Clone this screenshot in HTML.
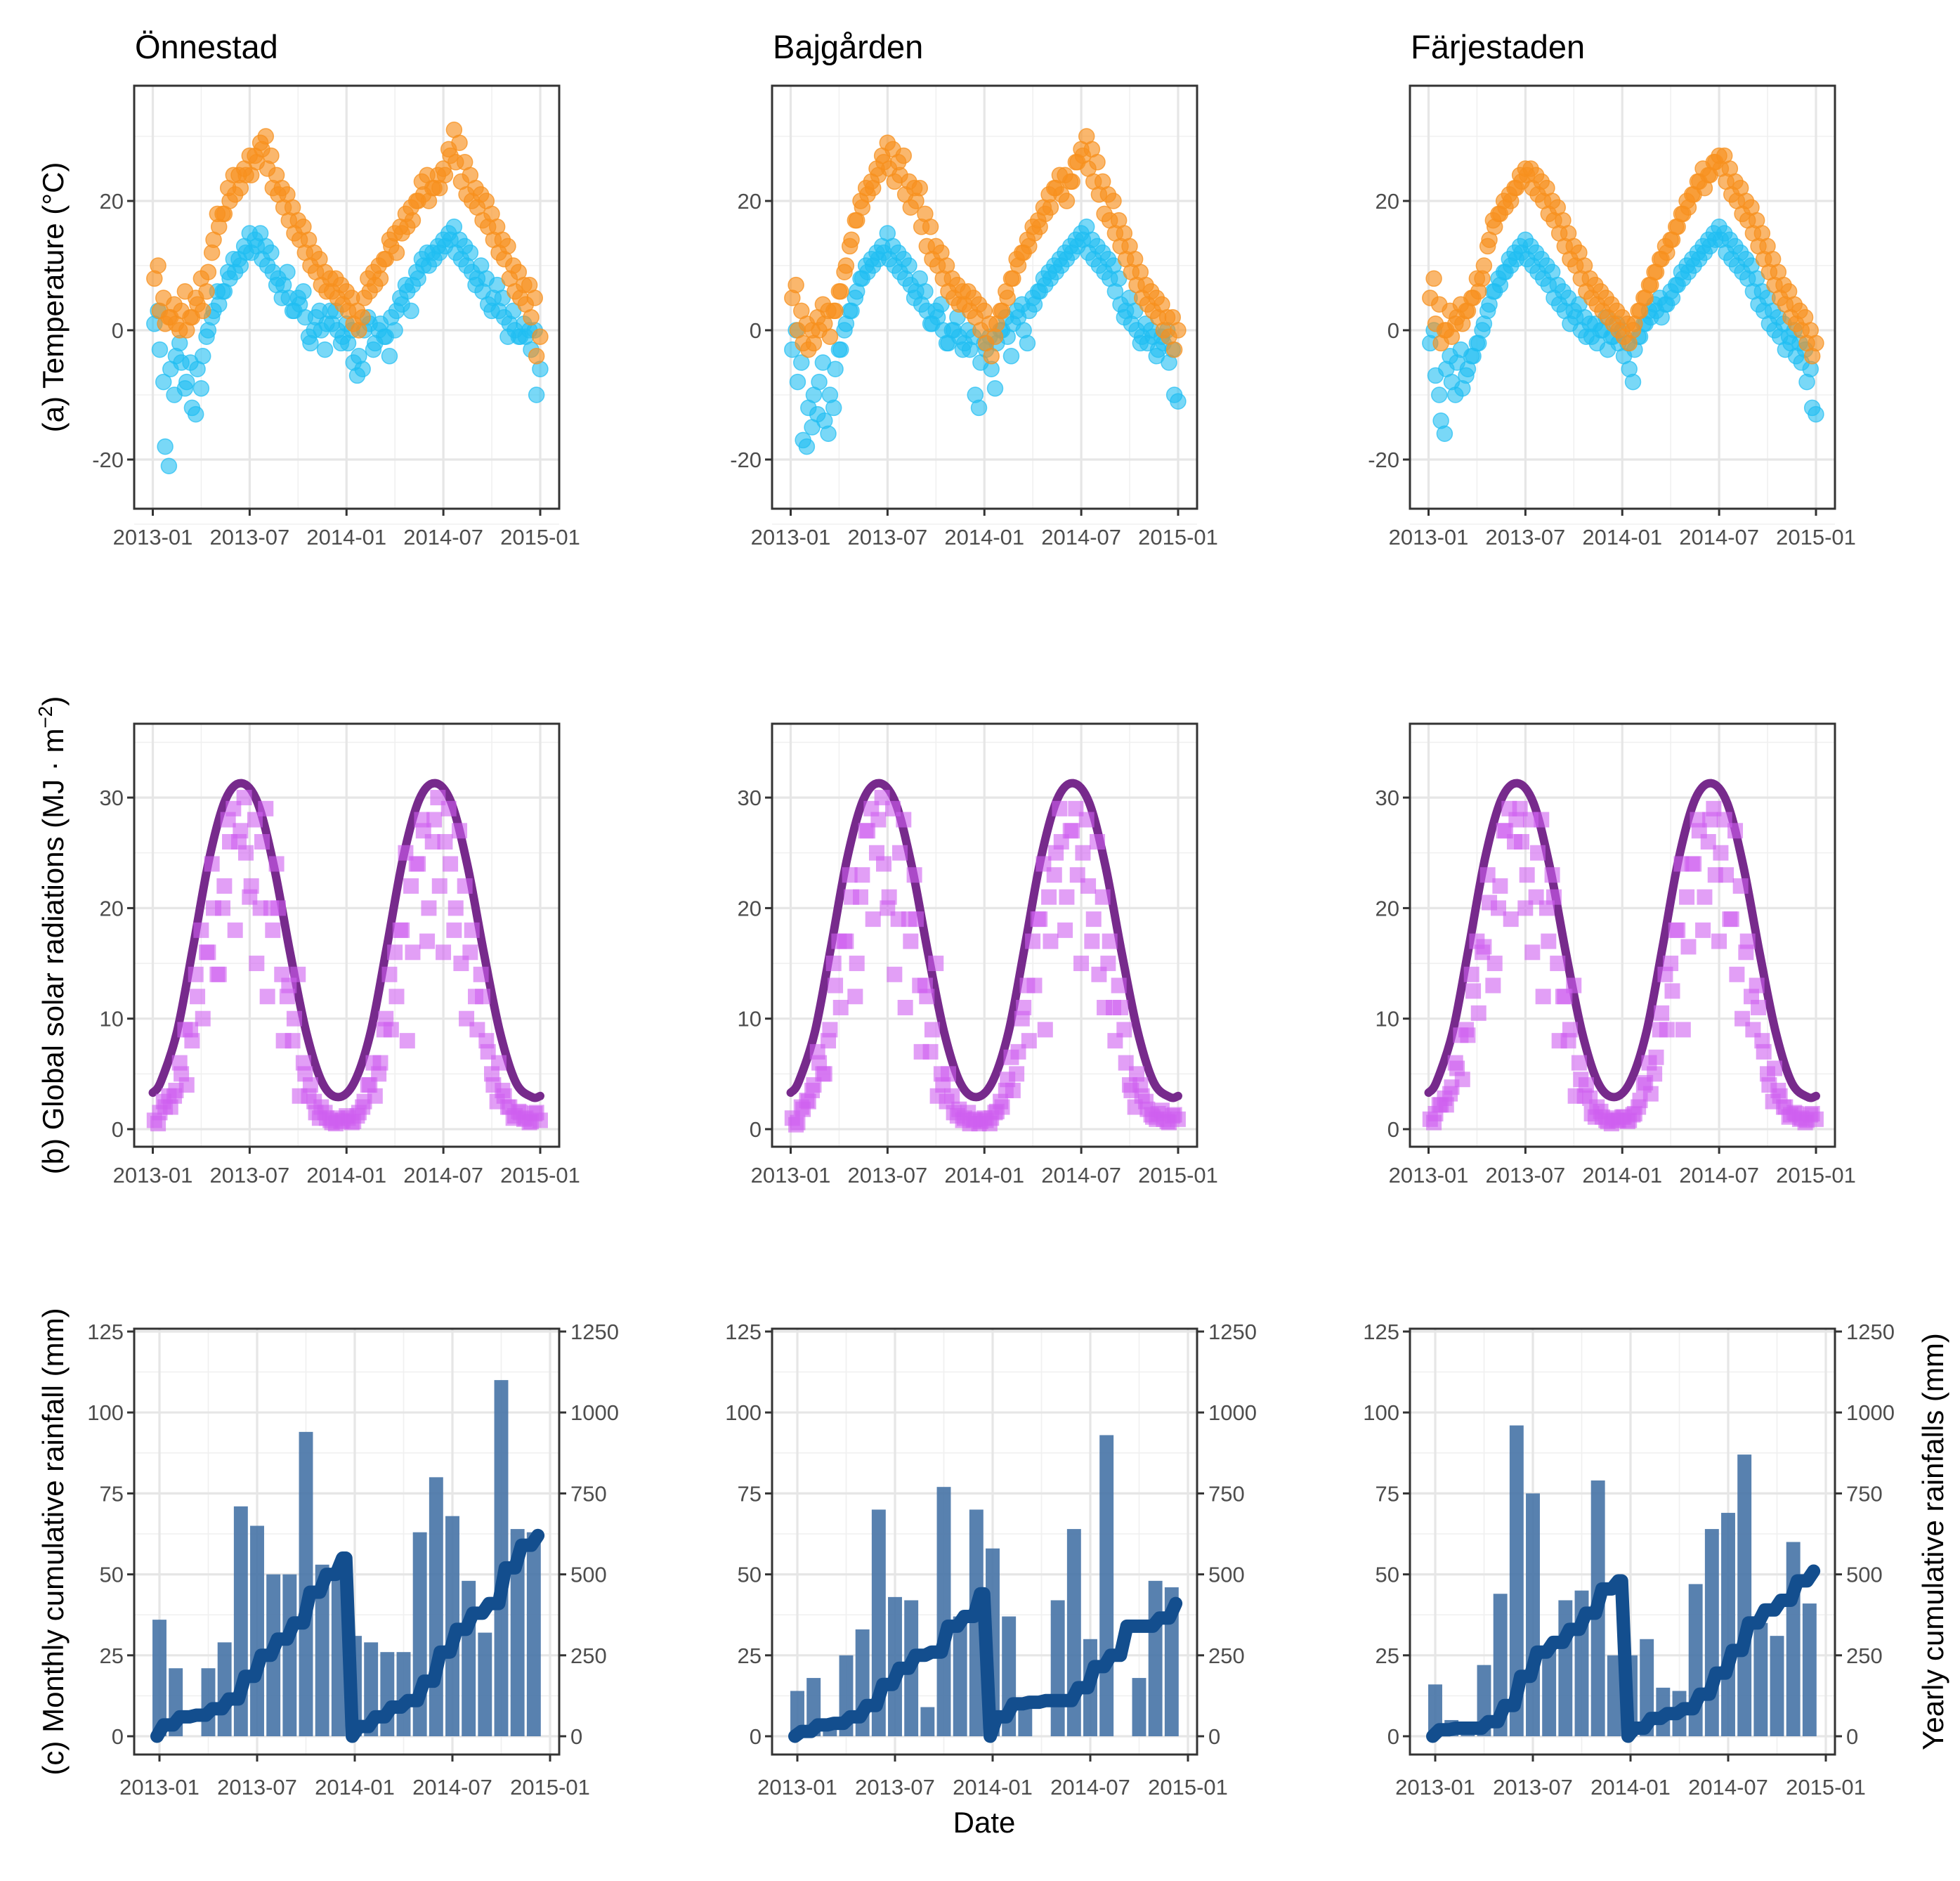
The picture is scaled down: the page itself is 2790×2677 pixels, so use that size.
<!DOCTYPE html>
<html><head><meta charset="utf-8"><style>
html,body{margin:0;padding:0;background:#fff;}
svg{display:block;font-family:"Liberation Sans",Arial,sans-serif;}
</style></head><body>
<svg id="fig" xmlns="http://www.w3.org/2000/svg" width="2790" height="2677" viewBox="0 0 2790 2677">
<rect width="2790" height="2677" fill="#fff"/>
<g id="root"></g>
</svg>
<script>
// ---------- DATA ----------
const sites = ["Önnestad","Bajgården","Färjestaden"];
// temperature, two readings sets, 3 samples per month, Jan 2013 .. Dec 2014 (°C)
const tmaxOnn = [8,3,1, 2,1,3, 0,2,4, 3,9,14, 16,18,20, 21,22,24, 24,26,28, 25,22,21, 19,17,15, 14,12,10, 9,7,6, 6,5,4,
 3,1,0, 5,6,7, 8,11,13, 12,15,16, 17,20,21, 20,22,22, 24,27,26, 23,21,20, 19,17,16, 14,12,11, 8,6,5, 4,2,-4];
const tmaxOnnB = [10,5,2, 4,0,6, 2,5,8, 6,12,18, 18,22,24, 24,25,27, 27,29,30, 27,24,22, 21,19,17, 16,14,12, 11,9,8, 8,7,6,
 5,3,2, 8,9,10, 11,14,15, 16,18,19, 20,23,24, 22,24,25, 28,31,29, 26,24,22, 21,20,18, 16,14,13, 10,9,7, 7,5,-1];
const tminOnn = [1,-3,-18, -6,-4,-5, -8,-12,-6, -4,0,3, 4,6,8, 9,10,12, 12,13,11, 10,9,8, 7,5,3, 4,2,-2, 2,0,1, 1,0,-1,
 -2,-5,-4, 0,1,-2, 1,-1,2, 3,4,6, 7,8,10, 10,11,12, 13,14,12, 11,10,9, 8,6,4, 5,3,2, 1,0,-1, -1,-3,-10];
const tminOnnB = [3,-8,-21, -10,-2,-9, -5,-13,-9, -1,2,6, 6,9,11, 11,13,15, 14,15,13, 12,7,5, 9,3,5, 6,-1,0, 3,-3,3, 3,-2,1,
 0,-7,-6, 2,-3,0, -1,-4,0, 5,7,3, 9,11,12, 12,13,14, 15,16,14, 13,12,7, 10,8,3, 7,5,-1, 3,-1,1, 0,0,-6];
const tmaxBaj = [5,0,-2, -3,-2,0, 1,-1,3, 6,10,14, 17,19,21, 22,24,26, 25,23,24, 21,19,20, 16,13,11, 10,8,6, 5,4,4, 3,2,0,
 -2,-4,1, 3,5,8, 10,12,13, 15,16,18, 19,22,21, 20,23,26, 27,25,23, 21,18,17, 15,13,11, 9,7,5, 4,3,2, 0,-1,-3];
const tmaxBajB = [7,3,1, 0,2,4, 3,3,6, 9,13,17, 20,22,23, 25,27,29, 28,26,27, 23,22,22, 18,16,13, 12,10,8, 7,6,6, 5,4,3,
 1,-1,3, 6,8,11, 12,14,16, 17,19,21, 22,24,24, 23,26,28, 30,28,26, 23,21,20, 17,15,13, 11,9,7, 6,5,4, 2,2,0];
const tminBaj = [-3,-8,-17, -12,-10,-8, -14,-10,-6, -3,1,3, 6,8,9, 10,11,12, 11,10,9, 8,7,6, 4,3,1, 2,0,-2, 0,-1,-2, -3,-10,-5,
 -3,-6,-2, 0,-1,1, 2,0,3, 4,6,7, 8,9,10, 11,12,13, 14,12,11, 10,9,8, 6,4,3, 1,0,-1, -2,-1,-3, -2,-5,-10];
const tminBajB = [0,-5,-18, -15,-13,-5, -16,-12,-3, 0,3,5, 8,10,11, 12,13,15, 13,12,11, 10,5,8, 6,1,3, 4,-2,0, 2,-3,0, -1,-12,-2,
 -1,-9,0, 2,-4,3, 4,-2,5, 6,8,9, 10,11,12, 13,14,15, 16,14,13, 12,11,10, 8,2,5, 3,-2,1, 0,-4,-1, 0,-3,-11];
const tmaxFar = [5,1,-2, 0,-1,2, 1,3,5, 6,10,14, 16,18,19, 20,22,23, 24,22,21, 20,18,17, 15,13,11, 10,8,6, 5,4,3, 2,1,0,
 -1,-2,1, 3,5,7, 9,11,12, 14,16,18, 19,21,23, 22,24,26, 25,23,21, 20,18,17, 15,13,11, 9,7,5, 4,2,1, 0,-2,-4];
const tmaxFarB = [8,4,0, 3,1,4, 3,5,8, 8,13,17, 18,20,21, 22,24,25, 25,24,23, 22,20,19, 17,15,13, 12,10,8, 7,6,5, 4,3,2,
 1,0,3, 5,7,9, 11,13,14, 16,18,20, 21,23,25, 24,26,27, 27,25,23, 22,20,19, 17,15,13, 11,9,7, 6,4,3, 2,0,-2];
const tminFar = [-2,-7,-14, -6,-8,-5, -9,-6,-4, -2,1,4, 6,7,9, 10,11,12, 11,10,9, 8,7,5, 4,3,1, 2,0,-1, -1,-2,0, -3,-1,-2,
 -4,-6,-3, -1,1,2, 3,2,4, 5,7,8, 9,10,11, 12,13,14, 14,12,11, 10,9,8, 6,4,3, 1,0,-1, -3,-2,-4, -5,-8,-12];
const tminFarB = [0,-10,-16, -4,-10,-3, -7,-4,-2, 0,3,6, 8,9,11, 12,13,14, 13,12,11, 10,9,7, 6,5,3, 4,2,1, 1,0,2, -1,1,0,
 -2,-8,-1, 1,3,4, 5,4,6, 7,9,10, 11,12,13, 14,15,16, 15,14,13, 12,11,10, 8,6,5, 3,2,1, -1,0,-2, -3,-6,-13];
// clear-sky solar radiation at mid-month (MJ m-2)
const solarMax = [4.3,8.8,16.5,24.5,29.8,31.3,29.5,23.8,16,8.8,4.2,2.9, 4.3,8.8,16.5,24.5,29.8,31.3,29.5,23.8,16,8.8,4.2,2.9];
const solarMaxEdge = [3.3,3.0];
// observed radiation, 3 samples per month, two sets
const solarOnn = [0.8,1.5,2, 2,3.5,5, 4,8,12, 10,16,20, 14,22,26, 18,27,25, 22,15,26, 12,18,20, 8,13,10, 3,5,4, 1.5,2,1, 0.6,1,0.8,
 1,0.7,1.5, 2.5,4,3, 6,10,9, 12,18,8, 16,24,27, 20,28,22, 26,24,20, 15,10,18, 9,12,7, 4,6,3, 2,1.2,1.5, 1,0.7,1.5];
const solarOnnB = [0.5,2.5,3, 3,6,9, 9,14,18, 16,24,14, 20,28,29, 26,30,21, 28,20,29, 20,24,14, 12,8,14, 6,3,2.5, 1,1.5,0.8, 0.5,0.7,1.2,
 0.6,1.2,2, 4,6,5, 9,14,16, 18,25,22, 24,28,17, 26,30,16, 29,18,27, 22,16,12, 14,8,5, 2.5,3.5,2, 1,1.6,0.9, 0.6,1.4,0.8];
const solarBaj = [1,0.6,1.8, 2.5,4,6, 5,9,13, 11,17,21, 15,23,27, 19,28,24, 21,14,25, 11,17,19, 7,12,9, 3,4,5, 1.5,1.8,1, 0.5,0.9,0.7,
 0.8,1,1.6, 2,4.5,3.5, 7,11,8, 13,19,9, 17,25,26, 21,27,23, 25,22,19, 14,11,17, 8,11,6, 3.5,5,3, 1.8,1.1,1.4, 0.9,0.6,1.3];
const solarBajB = [0.4,2,2.6, 3.5,7,5, 8,15,17, 17,23,12, 21,27,29, 25,30,20, 29,19,28, 19,23,13, 13,7,15, 5,2.5,3, 1.2,0.8,1.5, 0.8,0.5,1,
 0.5,1.5,2.5, 3.5,6.5,5, 10,13,17, 19,24,21, 23,29,18, 27,29,15, 28,17,26, 21,15,11, 13,9,4, 2,4,2.5, 1.3,0.9,1.7, 0.7,1.2,0.9];
const solarFar = [0.9,1.4,2.2, 2.2,3.8,5.5, 4.5,8.5,12.5, 10.5,16.5,20.5, 15,22,27, 19,28,26, 23,16,25, 12,17,21, 8,12,9, 3,4.5,4, 1.4,2,1.1, 0.7,1,0.8,
 1.1,0.8,1.4, 2.6,4.2,3.2, 6.5,10.5,9, 12.5,18,9, 16.5,24,27, 21,28,23, 25,23,19, 14,10,17, 9,11,7, 4,5.5,3, 2,1.3,1.4, 1,0.8,1.4];
const solarFarB = [0.6,2.2,2.8, 3.2,6,8.5, 9,14,17, 16,23,13, 20,27,29, 26,29,20, 28,21,28, 20,23,15, 12,8,13, 6,3,2.8, 1.1,1.6,0.8, 0.5,0.8,1.1,
 0.7,1.3,2, 4,6,5, 9,14,15, 18,24,21, 24,28,18, 26,29,17, 28,19,27, 22,16,12, 13,8,5, 2.5,3.5,2, 1.1,1.5,0.9, 0.6,1.3,0.9];
// monthly rainfall (mm), Jan 2013 .. Dec 2014
const rainOnn = [36,21,0,21,29,71,65,50,50,94,53,50, 31,29,26,26,63,80,68,48,32,110,64,63];
const rainBaj = [14,18,3,25,33,70,43,42,9,77,37,70, 58,37,10,0,42,64,30,93,0,18,48,46];
const rainFar = [16,5,2,22,44,96,75,28,42,45,79,25, 25,30,15,14,47,64,69,87,35,31,60,41];
// yearly cumulative rainfall at month end (mm)
const cumOnn = [35,60,65,85,115,185,250,300,350,445,500,550, 30,60,90,110,170,260,330,380,410,520,590,620];
const cumBaj = [15,35,40,60,95,160,210,250,260,340,370,440, 60,100,105,110,110,150,215,250,340,340,365,410];
const cumFar = [20,25,25,45,95,185,260,290,330,380,455,480, 25,55,70,85,130,195,265,350,390,420,480,510];
const xTickLabels = ["2013-01","2013-07","2014-01","2014-07","2015-01"];
const tempTicks = [-20,0,20];
const solarTicks = [0,10,20,30];
const rainTicks = [0,25,50,75,100,125];
const cumTicks = [0,250,500,750,1000,1250];

const tmaxAll=[[tmaxOnn,tmaxOnnB],[tmaxBaj,tmaxBajB],[tmaxFar,tmaxFarB]];
const tminAll=[[tminOnn,tminOnnB],[tminBaj,tminBajB],[tminFar,tminFarB]];
const solarAll=[[solarOnn,solarOnnB],[solarBaj,solarBajB],[solarFar,solarFarB]];
const rainAll=[rainOnn,rainBaj,rainFar], cumAll=[cumOnn,cumBaj,cumFar];

// ---------- HELPERS ----------
const NS="http://www.w3.org/2000/svg";
const root=document.getElementById('root');
function el(tag,attrs,parent){const e=document.createElementNS(NS,tag);for(const k in attrs)e.setAttribute(k,attrs[k]);(parent||root).appendChild(e);return e;}
function txt(s,attrs,parent){const e=el('text',attrs,parent);e.textContent=s;return e;}

const COLX=[191,1099,2007], PW=605;
const rows=[{top:122,bot:724},{top:1030,bot:1632},{top:1891,bot:2497}];

function panelFrame(g,L,top,bot,xs,ys,yTicks,minorY,xTickY,rowName){
  const gg=el('g',{},g);
  
  
  for(let m=3;m<24;m+=6){const x=xs(m);el('line',{x1:x,x2:x,y1:top,y2:bot,stroke:'#f0f0f0','stroke-width':1.6},gg);}
  minorY.forEach(v=>{const y=ys(v);el('line',{x1:L,x2:L+PW,y1:y,y2:y,stroke:'#f0f0f0','stroke-width':1.6},gg);});
  for(let m=0;m<=24;m+=6){const x=xs(m);el('line',{x1:x,x2:x,y1:top,y2:bot,stroke:'#e6e6e6','stroke-width':3.2},gg);}
  yTicks.forEach(v=>{const y=ys(v);el('line',{x1:L,x2:L+PW,y1:y,y2:y,stroke:'#e6e6e6','stroke-width':3.2},gg);});
  yTicks.forEach(v=>{const y=ys(v);
    el('line',{x1:L-10,x2:L,y1:y,y2:y,stroke:'#333','stroke-width':3},g);
    const t=txt(String(v),{x:L-15,y:y+11,'text-anchor':'end','font-size':31,fill:'#4d4d4d'},g);
    
    
  });
  xTickLabels.forEach((s,i)=>{const x=xs(i*6);
    el('line',{x1:x,x2:x,y1:bot,y2:bot+10,stroke:'#333','stroke-width':3},g);
    const t=txt(s,{x:x,y:xTickY,'text-anchor':'middle','font-size':31,fill:'#4d4d4d'},g);
    
    
  });
}
function border(g,L,top,bot){el('rect',{x:L,y:top,width:PW,height:bot-top,fill:'none',stroke:'#333','stroke-width':3},g);}

// ---------- BUILD ----------
for(let s=0;s<3;s++){
  const L=COLX[s];
  const ti=txt(sites[s],{x:L+1,y:83,'font-size':47,fill:'#000'});
  
  

  // ---- Row 1: temperature ----
  {
    const r=rows[0];
    const xs=m=>L+26.5+m*(551.5/24);
    const ys=v=>470-v*(184/20);
    const g=el('g',{});
    
    
    panelFrame(g,L,r.top,r.bot,xs,ys,tempTicks,[-30,-10,10,30],775,'temperature');
    const gMin=el('g',{},g);
    
    
    tminAll[s].forEach((arr,k)=>arr.forEach((v,i)=>{const c=el('circle',{cx:xs(i/3+(k?0.33:0.1)),cy:ys(v),r:11,fill:'#1fbef2','fill-opacity':0.6,stroke:'#1fbef2','stroke-opacity':0.7,'stroke-width':1.5},gMin);
      
      }));
    const gMax=el('g',{},g);
    
    
    tmaxAll[s].forEach((arr,k)=>arr.forEach((v,i)=>{const c=el('circle',{cx:xs(i/3+(k?0.33:0.1)),cy:ys(v),r:11,fill:'#f7901e','fill-opacity':0.65,stroke:'#f7901e','stroke-opacity':0.75,'stroke-width':1.5},gMax);
      
      }));
    border(g,L,r.top,r.bot);
  }
  // ---- Row 2: solar ----
  {
    const r=rows[1];
    const xs=m=>L+26.5+m*(551.5/24);
    const ys=v=>1607-v*15.73;
    const g=el('g',{});
    
    
    panelFrame(g,L,r.top,r.bot,xs,ys,solarTicks,[5,15,25,35],1683,'solar');
    const pts=[[0,solarMaxEdge[0]]];
    solarMax.forEach((v,i)=>pts.push([i+0.5,v]));
    pts.push([24,solarMaxEdge[1]]);
    const P=pts.map(p=>[xs(p[0]),ys(p[1])]);
    let d='M'+P[0][0]+','+P[0][1];
    for(let i=0;i<P.length-1;i++){
      const p0=P[Math.max(0,i-1)],p1=P[i],p2=P[i+1],p3=P[Math.min(P.length-1,i+2)];
      const c1=[p1[0]+(p2[0]-p0[0])/6,p1[1]+(p2[1]-p0[1])/6],c2=[p2[0]-(p3[0]-p1[0])/6,p2[1]-(p3[1]-p1[1])/6];
      d+=' C'+c1[0]+','+c1[1]+' '+c2[0]+','+c2[1]+' '+p2[0]+','+p2[1];
    }
    const ln=el('path',{d:d,fill:'none',stroke:'#772a8c','stroke-width':12,'stroke-linecap':'round'},g);
    
    
    const gs=el('g',{},g);
    
    
    solarAll[s].forEach((arr,k)=>arr.forEach((v,i)=>{const x=xs(i/3+(k?0.33:0.1)),y=ys(v);
      const q=el('rect',{x:x-11,y:y-11,width:22,height:22,fill:'#cf5ff0','fill-opacity':0.6},gs);
      
      }));
    border(g,L,r.top,r.bot);
  }
  // ---- Row 3: rainfall ----
  {
    const r=rows[2];
    const xs=m=>L+36+m*(556/24);
    const ys=v=>2471-v*4.608;
    const yc=v=>ys(v/10);
    const g=el('g',{});
    
    
    panelFrame(g,L,r.top,r.bot,xs,ys,rainTicks,[12.5,37.5,62.5,87.5,112.5],2554,'rainfall');
    cumTicks.forEach(v=>{const y=yc(v);
      el('line',{x1:L+PW,x2:L+PW+10,y1:y,y2:y,stroke:'#333','stroke-width':3},g);
      const t=txt(String(v),{x:L+PW+16,y:y+11,'font-size':31,fill:'#4d4d4d'},g);
      
      });
    const bw=556/24*0.86;
    const gb=el('g',{},g);
    
    
    rainAll[s].forEach((v,i)=>{if(v<=0)return;const x=xs(i);
      const b=el('rect',{x:x-bw/2,y:ys(v),width:bw,height:ys(0)-ys(v),fill:'#4a76a8','fill-opacity':0.92},gb);
      
      });
    const c=cumAll[s];let pts=[];
    for(let i=0;i<24;i++){
      const prev=(i%12===0)?0:c[i-1];
      pts.push([xs(i-0.15),yc(prev)]);pts.push([xs(i+0.25),yc(c[i])]);
      if(i===11)pts.push([xs(11.45),yc(c[i])]);
    }
    const pl=el('polyline',{points:pts.map(p=>p.join(',')).join(' '),fill:'none',stroke:'#134e8e','stroke-width':19,'stroke-linejoin':'round','stroke-linecap':'round'},g);
    
    
    border(g,L,r.top,r.bot);
  }
}
function vtitle(s,x,y,name){const t=txt(s,{x:x,y:y,'text-anchor':'middle','font-size':42,fill:'#000',transform:'rotate(-90 '+x+' '+y+')'});
  return t;}
vtitle('(a) Temperature (°C)',90,423,'temperature-axis-title');
const bt=vtitle('',90,1331,'solar-axis-title');
bt.textContent='(b) Global solar radiations (MJ · m';
const sup=document.createElementNS(NS,'tspan');sup.setAttribute('dy','-16');sup.setAttribute('font-size','28');sup.textContent='−2';bt.appendChild(sup);
const cl=document.createElementNS(NS,'tspan');cl.setAttribute('dy','16');cl.textContent=')';bt.appendChild(cl);
vtitle('(c) Monthly cumulative rainfall (mm)',90,2194,'rainfall-axis-title');
vtitle('Yearly cumulative rainfalls (mm)',2766,2194,'cumulative-axis-title');
const dt=txt('Date',{x:1401,y:2608,'text-anchor':'middle','font-size':42,fill:'#000'});


</script>
</body></html>
